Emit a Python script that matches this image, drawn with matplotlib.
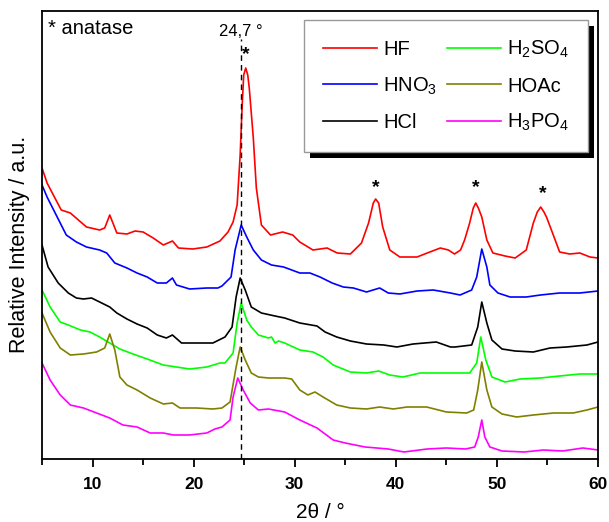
import matplotlib
matplotlib.use("Agg")
import matplotlib.pyplot as plt
from matplotlib.patches import Rectangle

plt.rcParams['font.family'] = ['Liberation Sans', 'DejaVu Sans']
plt.rcParams['mathtext.fontset'] = 'custom'
plt.rcParams['mathtext.rm'] = 'Liberation Sans'

# XRD patterns, values (intensity in arbitrary units)
hf_x = [5.0, 5.5, 6.9, 7.8, 8.6, 9.4, 10.7, 11.2, 11.7, 12.4, 13.4, 14.2, 15.0, 16.0, 17.0, 17.9, 18.5,
        19.9, 21.3, 22.6, 23.4, 23.9, 24.3, 24.6, 24.8, 24.95, 25.15, 25.35, 25.5, 25.9, 26.2, 26.7,
        27.6, 28.8, 29.8, 30.5, 31.8, 33.2, 34.2, 35.5, 36.6, 37.3, 37.77, 38.0, 38.3, 38.7, 39.4,
        40.4, 42.1, 43.1, 44.4, 45.2, 45.8, 46.4, 46.8, 47.3, 47.66, 47.9, 48.16, 48.5, 49.0, 49.6,
        50.8, 51.8, 52.9, 53.6, 53.99, 54.33, 54.65, 54.9, 55.5, 56.2, 57.2, 58.2, 59.2, 60.0]
hf_y = [291, 276, 249, 246, 239, 232, 229, 231, 244, 226, 225, 228, 227, 221, 214, 218, 211,
        210, 212, 218, 227, 237, 254, 304, 354, 384, 391, 384, 371, 321, 271, 234,
        224, 227, 224, 217, 209, 211, 206, 205, 216, 236, 256, 260, 256, 232, 209,
        202, 202, 206, 211, 209, 205, 209, 219, 236, 251, 256, 251, 242, 219, 206,
        203, 201, 209, 236, 247, 252, 247, 242, 226, 207, 205, 206, 202, 201]

hno3_x = [5.0, 5.5, 6.5, 7.4, 8.4, 9.4, 10.7, 11.4, 12.2, 13.4, 14.4, 15.4, 16.4, 17.3, 17.9, 18.3,
          19.6, 21.3, 22.4, 22.8, 23.7, 24.1, 24.7, 25.25, 25.9, 26.7, 27.7, 28.9, 30.5, 31.5, 32.5,
          33.7, 34.8, 35.8, 37.1, 38.4, 39.25, 40.4, 42.1, 43.7, 45.4, 46.35, 47.5, 48.0, 48.5, 49.0,
          49.3, 50.1, 51.3, 52.9, 54.3, 56.2, 58.2, 60.0]
hno3_y = [274, 262, 242, 224, 217, 212, 209, 206, 196, 191, 186, 182, 176, 176, 181, 174,
          170, 171, 171, 173, 182, 209, 234, 222, 209, 199, 194, 192, 186, 186, 182,
          176, 172, 171, 167, 171, 166, 165, 168, 169, 166, 164, 169, 182, 210, 192,
          174, 166, 162, 162, 164, 166, 166, 168]

hcl_x = [5.0, 5.6, 6.6, 7.6, 8.4, 9.1, 9.9, 10.7, 11.7, 12.4, 13.4, 14.4, 15.4, 16.4, 17.3, 17.9,
         18.8, 20.3, 21.9, 23.1, 23.8, 24.2, 24.6, 25.1, 25.7, 26.2, 26.7, 28.05, 29.0, 30.5, 32.2,
         33.0, 34.15, 35.5, 37.1, 38.8, 40.1, 41.7, 44.0, 45.4, 45.85, 47.5, 48.1, 48.5, 49.0, 49.5,
         50.5, 51.8, 53.6, 55.25, 56.9, 58.9, 60.0]
hcl_y = [214, 192, 176, 166, 161, 160, 161, 157, 152, 146, 140, 135, 131, 124, 121, 124,
         116, 116, 116, 122, 132, 162, 181, 169, 152, 149, 146, 143, 141, 136, 133,
         127, 122, 118, 115, 114, 112, 115, 117, 112, 112, 114, 132, 157, 136, 119,
         110, 108, 107, 111, 112, 114, 117]

h2so4_x = [5.0, 5.8, 6.8, 7.6, 8.8, 9.75, 10.7, 11.7, 12.7, 14.0, 15.4, 17.0, 18.3, 19.6, 21.3, 22.6,
           23.1, 23.9, 24.3, 24.7, 25.25, 25.7, 26.4, 27.4, 27.7, 28.05, 28.4, 29.0, 30.5, 31.8, 32.8,
           33.8, 35.5, 37.1, 38.3, 39.4, 40.7, 42.4, 44.4, 45.85, 47.3, 48.0, 48.4, 48.9, 49.5, 50.8,
           52.3, 54.3, 56.2, 58.2, 60.0]
h2so4_y = [169, 152, 137, 134, 129, 127, 122, 116, 110, 105, 100, 94, 92, 90, 92, 96,
           96, 106, 136, 156, 139, 132, 124, 121, 122, 116, 118, 116, 109, 107, 102,
           94, 87, 86, 88, 84, 82, 86, 86, 86, 86, 96, 122, 99, 82, 77,
           80, 81, 83, 85, 85]

hoac_x = [5.0, 5.8, 6.8, 7.8, 9.1, 10.4, 11.2, 11.7, 12.2, 12.7, 13.4, 14.4, 15.7, 17.0, 17.9, 18.65,
          20.3, 21.9, 22.8, 23.6, 24.2, 24.6, 25.1, 25.7, 26.4, 27.4, 29.0, 29.7, 30.5, 31.3, 32.0,
          32.8, 34.15, 35.5, 37.1, 38.4, 39.75, 41.1, 43.05, 45.0, 47.0, 47.7, 48.1, 48.5, 49.0, 49.5,
          50.5, 51.95, 53.6, 55.6, 57.55, 58.9, 60.0]
hoac_y = [146, 127, 111, 104, 105, 107, 111, 125, 109, 82, 74, 69, 61, 55, 56, 51,
          51, 50, 51, 57, 92, 112, 99, 86, 82, 81, 81, 80, 69, 64, 67,
          62, 54, 51, 50, 52, 50, 52, 52, 47, 46, 49, 69, 97, 69, 52,
          45, 42, 44, 46, 46, 49, 52]

h3po4_x = [5.0, 5.8, 6.8, 7.8, 9.1, 10.4, 11.7, 13.0, 14.4, 15.7, 17.0, 18.0, 19.6, 21.3, 22.1, 22.8,
           23.6, 23.9, 24.36, 24.9, 25.6, 26.4, 27.4, 29.0, 30.5, 32.2, 33.8, 35.0, 36.95, 39.25, 40.8,
           43.1, 45.0, 46.9, 47.8, 48.15, 48.5, 48.8, 49.3, 50.5, 52.7, 54.6, 56.5, 58.5, 60.0]
h3po4_y = [96, 79, 64, 54, 51, 46, 41, 34, 32, 26, 26, 24, 24, 26, 30, 32,
           39, 62, 81, 69, 56, 49, 50, 47, 39, 31, 19, 16, 12, 10, 7,
           10, 11, 10, 12, 22, 39, 22, 12, 8, 7, 9, 8, 11, 9]

series = [
    (hf_x, hf_y, '#ff0000', 'HF'),
    (hno3_x, hno3_y, '#0000ff', r'HNO$_\mathregular{3}$'),
    (hcl_x, hcl_y, '#000000', 'HCl'),
    (h2so4_x, h2so4_y, '#00ff00', r'H$_\mathregular{2}$SO$_\mathregular{4}$'),
    (hoac_x, hoac_y, '#808000', 'HOAc'),
    (h3po4_x, h3po4_y, '#ff00ff', r'H$_\mathregular{3}$PO$_\mathregular{4}$'),
]

ref_peak = 24.7
anatase_x = [25.18, 38.04, 47.93, 54.49]
anatase_y = [404, 271, 271, 265]

fig = plt.figure(figsize=(6.09, 5.22), dpi=100)
ax = fig.add_axes([0.069, 0.1207, 0.913, 0.8582])

for x, y, c, lab in series:
    ax.plot(x, y, color=c, lw=1.2, label=lab)

ax.axvline(ref_peak, ymax=420 / 448, color='black', lw=1, ls=(0, (4, 3)))
ax.text(ref_peak, 428, '24,7 °', ha='center', va='center', fontsize=12)
for px, py in zip(anatase_x, anatase_y):
    ax.text(px, py, '*', ha='center', va='center', fontsize=14, fontweight='bold')
ax.text(0.01, 0.982, '* anatase', transform=ax.transAxes, ha='left', va='top', fontsize=14.5)

ax.set_xlim(5, 60)
ax.set_ylim(0, 448)
ax.set_yticks([])
ax.set_xticks([10, 20, 30, 40, 50, 60])
ax.set_xticks([5, 15, 25, 35, 45, 55], minor=True)
ax.tick_params(axis='x', which='major', direction='out', length=6, width=1.3, pad=7, labelsize=12.5)
ax.tick_params(axis='x', which='minor', direction='out', length=4, width=1.3)
for lbl in ax.get_xticklabels():
    lbl.set_fontweight('bold')
for sp in ax.spines.values():
    sp.set_linewidth(1.3)

ax.set_xlabel('2θ / °', fontsize=15, labelpad=8)
ax.set_ylabel('Relative Intensity / a.u.', fontsize=15.5)
ax.yaxis.set_label_coords(-0.022, 0.478)

leg = ax.legend(ncol=2, loc='upper right', bbox_to_anchor=(0.982, 0.98), borderaxespad=0,
                fontsize=14.5, frameon=True, fancybox=False, framealpha=1, edgecolor='#999999',
                handlelength=2.7, handletextpad=0.3, columnspacing=0.45, labelspacing=0.8,
                borderpad=0.95)
leg.get_frame().set_linewidth(1)

fig.canvas.draw()
bb = leg.get_frame().get_window_extent().transformed(ax.transAxes.inverted())
dx = 6 / (ax.bbox.width)
dy = 6 / (ax.bbox.height)
ax.add_patch(Rectangle((bb.x0 + dx, bb.y0 - dy), bb.width, bb.height, transform=ax.transAxes,
                       facecolor='black', edgecolor='none', zorder=4.9, clip_on=False))

fig.savefig('out.png', dpi=100)
